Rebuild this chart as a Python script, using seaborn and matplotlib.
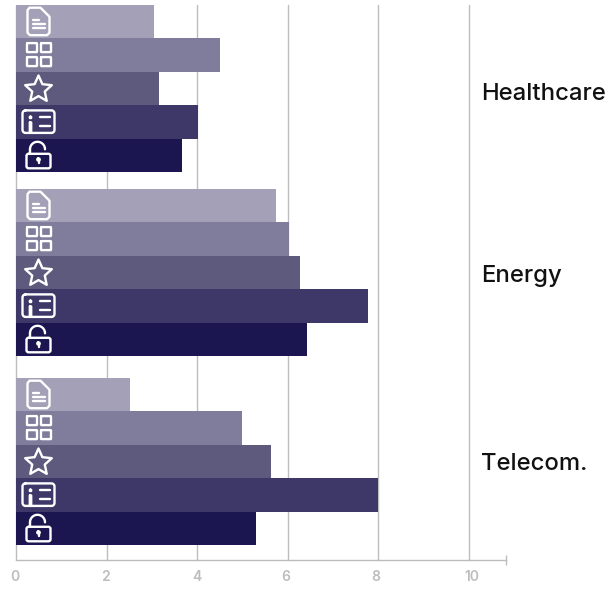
import matplotlib
matplotlib.use("Agg")
import matplotlib.pyplot as plt
from matplotlib.patches import PathPatch
from matplotlib.path import Path
from matplotlib.transforms import Affine2D, ScaledTranslation
import numpy as np
import pandas as pd
import seaborn as sns

sectors = ["Healthcare", "Energy", "Telecom."]
metrics = ["Reports", "Platforms", "Reviews", "Profiles", "Access"]
reports = [3.04, 5.73, 2.51]
platforms = [4.5, 6.02, 4.98]
reviews = [3.15, 6.28, 5.64]
profiles = [4.01, 7.76, 8.0]
access = [3.66, 6.42, 5.29]
x_ticks = [0, 2, 4, 6, 8, 10]
colors = ["#A3A0B7", "#807D9C", "#5E5A7E", "#3D3867", "#1B1650"]

GRAY = "#BDBDBD"
W, H = 609, 591
LEFT, RIGHT, TOP, BOTTOM = 16, 506, 5, 560.3
PX_PER_X = 45.3
PITCH = 186.5
CENTER0 = 88.5

sns.set_theme(style="white")
plt.rcParams["font.family"] = ["Inter", "DejaVu Sans"]

df = pd.DataFrame({
    "sector": np.repeat(sectors, len(metrics)),
    "metric": metrics * len(sectors),
    "value": np.array([reports, platforms, reviews, profiles, access]).T.ravel(),
})

fig = plt.figure(figsize=(W / 100, H / 100), dpi=100)
ax = fig.add_axes([LEFT / W, 1 - BOTTOM / H, (RIGHT - LEFT) / W, (BOTTOM - TOP) / H])

sns.barplot(data=df, y="sector", x="value", hue="metric", order=sectors, hue_order=metrics,
            palette=colors, saturation=1, width=167 / PITCH, gap=0, linewidth=0,
            legend=False, ax=ax, zorder=3)

ax.set_xlim(0, (RIGHT - LEFT) / PX_PER_X)
ax.set_ylim((BOTTOM - CENTER0) / PITCH, (TOP - CENTER0) / PITCH)
ax.set_xlabel("")
ax.set_ylabel("")
ax.set_yticks([])

for name in ("top", "left", "right"):
    ax.spines[name].set_visible(False)
ax.spines["bottom"].set_color(GRAY)
ax.spines["bottom"].set_linewidth(1.0)

# Vertical guides stop at the top of the plot area, behind the bars.
ax.set_axisbelow(True)
ax.set_xticks(x_ticks)
ax.grid(axis="x", color=GRAY, linewidth=1.0, clip_on=False)
ax.grid(axis="y", visible=False)
ax.tick_params(axis="x", which="major", bottom=False, length=0, pad=7, labelsize=10, labelcolor=GRAY)
ax.set_xticks([ax.get_xlim()[1]], minor=True)
ax.tick_params(axis="x", which="minor", bottom=True, length=6.5, width=1.0, color=GRAY, direction="inout")

# Hand-placed nudges for the axis numbers, in pixels.
for label, dx in zip(ax.get_xticklabels(), [-1, -1, 0, -2.5, -3, 2.5]):
    label.set_fontweight("semibold")
    label.set_transform(label.get_transform() + ScaledTranslation(dx / 100, 0, fig.dpi_scale_trans))

# The middle group sits slightly higher than an even spacing would give.
for container in ax.containers:
    bar = container[1]
    bar.set_y(bar.get_y() - 2.5 / PITCH)

# Group names, placed by baseline.
for name, baseline in zip(sectors, [100.5, 282, 470]):
    fig.text(481.5 / W, 1 - baseline / H, name, fontsize=17.2, color="#111111",
             fontweight="medium", va="baseline", ha="left")


def _poly(points, closed=False):
    pts = list(points)
    codes = [Path.MOVETO] + [Path.LINETO] * (len(pts) - 1)
    if closed:
        pts.append(pts[0])
        codes.append(Path.CLOSEPOLY)
    return Path(pts, codes)


def _rrect(x0, y0, x1, y1, r):
    k = 0.55 * r
    verts = [(x0 + r, y0), (x1 - r, y0),
             (x1 - r + k, y0), (x1, y0 + r - k), (x1, y0 + r), (x1, y1 - r),
             (x1, y1 - r + k), (x1 - r + k, y1), (x1 - r, y1), (x0 + r, y1),
             (x0 + r - k, y1), (x0, y1 - r + k), (x0, y1 - r), (x0, y0 + r),
             (x0, y0 + r - k), (x0 + r - k, y0), (x0 + r, y0)]
    codes = [Path.MOVETO, Path.LINETO,
             Path.CURVE4, Path.CURVE4, Path.CURVE4, Path.LINETO,
             Path.CURVE4, Path.CURVE4, Path.CURVE4, Path.LINETO,
             Path.CURVE4, Path.CURVE4, Path.CURVE4, Path.LINETO,
             Path.CURVE4, Path.CURVE4, Path.CURVE4]
    return Path(verts, codes)


def _arc(cx, cy, r, start, end, n=30):
    t = np.radians(np.linspace(start, end, n))
    return _poly(np.c_[cx + r * np.cos(t), cy + r * np.sin(t)])


def icon_document():
    outline = _poly([(-9, -14), (2, -14), (11, -5), (11, 11), (8.5, 13.5), (-8.5, 13.5),
                     (-11, 11), (-11, -11.5)], closed=True)
    return [outline,
            _poly([(-6, -1.7), (0, -1.7)]), _poly([(-6, 2.6), (6, 2.6)]), _poly([(-6, 6.6), (6, 6.6)])]


def icon_grid():
    return [_rrect(x, y, x + 10, y + 9, 0.6)
            for x in (-11.5, 2.5) for y in (-12, 2)]


def icon_star():
    angles = np.radians(np.arange(10) * 36 - 90)
    radii = np.where(np.arange(10) % 2 == 0, 14, 6.6)
    return [_poly(np.c_[radii * np.cos(angles), 1 + radii * np.sin(angles)], closed=True)]


def icon_card():
    return [_rrect(-16, -11.5, 16, 11, 3),
            _rrect(-8.7, -5.2, -7.3, -3.8, 0.5),
            _rrect(-8.7, 0.5, -7.3, 10.5, 0.3),
            _poly([(1, -5), (11.5, -5)]), _poly([(1, 4), (11.5, 4)])]


def icon_lock():
    return [_rrect(-12, -1.5, 12, 13, 2),
            _poly([(-8.5, -1.5), (-8.5, -6)]),
            _arc(-1, -6, 7.5, 180, 360),
            _rrect(-1.2, 3.2, 1.2, 5.2, 0.9),
            _poly([(0, 5), (0, 8)])]


icons = [icon_document, icon_grid, icon_star, icon_card, icon_lock]
to_display = Affine2D().scale(1, -1).translate(0, H)

# White outline glyphs sit at a fixed inset near the start of every bar.
for container, make_icon in zip(ax.containers, icons):
    for bar in container:
        mid = bar.get_y() + bar.get_height() / 2
        cy = H - ax.transData.transform((0, mid))[1]
        placed = Affine2D().translate(38.5, cy) + to_display
        for path in make_icon():
            ax.add_patch(PathPatch(path, facecolor="none", edgecolor="white", linewidth=1.7,
                                   joinstyle="round", capstyle="round",
                                   transform=placed, clip_on=False, zorder=5))

fig.savefig("out.png", dpi=100, facecolor="white")
